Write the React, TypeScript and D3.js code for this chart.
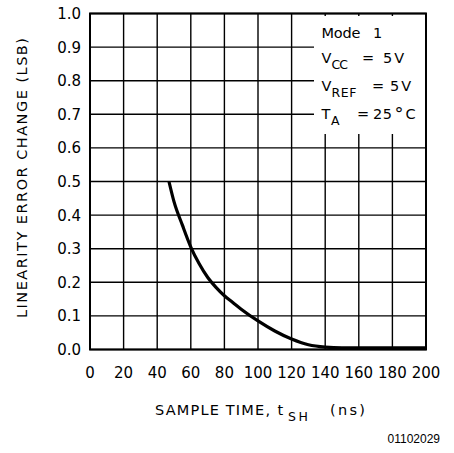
import React from "react";
import * as d3 from "d3";

const xTicks = [0, 20, 40, 60, 80, 100, 120, 140, 160, 180, 200];
const yTicks = [0, 0.1, 0.2, 0.3, 0.4, 0.5, 0.6, 0.7, 0.8, 0.9, 1.0];
const sampleTime = [47, 50, 55, 60, 65, 70, 75, 80, 85, 90, 100, 110, 120, 130, 140, 150, 200];
const errorChange = [0.5, 0.44, 0.37, 0.305, 0.255, 0.215, 0.185, 0.16, 0.14, 0.12, 0.085, 0.055, 0.031, 0.014, 0.007, 0.005, 0.005];

const W = 454, H = 453;
const left = 90, right = 426, top = 13.5, bottom = 349.5;
const FONT = "DejaVu Sans, sans-serif";

export default function App() {
  const x = d3.scaleLinear().domain([0, 200]).range([left, right]);
  const y = d3.scaleLinear().domain([0, 1]).range([bottom, top]);
  const pts: [number, number][] = sampleTime.map((t, i) => [t, errorChange[i]]);
  const line = d3.line<[number, number]>().x(d => x(d[0])).y(d => y(d[1])).curve(d3.curveMonotoneX);

  const T = (px: number, py: number, s: string, fs = 14.5, extra: any = {}) => (
    <text x={px} y={py} fontFamily={FONT} fontSize={fs} fill="#000" {...extra}>{s}</text>
  );

  return (
    <svg width={W} height={H} style={{ position: "absolute", left: 0, top: 0, background: "#fff" }}>
      <rect x={0} y={0} width={W} height={H} fill="#fff" />
      {xTicks.map(t => (
        <line key={"vx" + t} x1={x(t)} x2={x(t)} y1={top} y2={bottom} stroke="#000" strokeWidth={1.4} />
      ))}
      {yTicks.map(t => (
        <line key={"hy" + t} x1={left} x2={right} y1={y(t)} y2={y(t)} stroke="#000" strokeWidth={1.4} />
      ))}
      <rect x={314} y={16} width={right - 314} height={134 - 16} fill="#fff" />
      <rect x={left} y={top} width={right - left} height={bottom - top} fill="none" stroke="#000" strokeWidth={2} />
      <path d={line(pts) || ""} fill="none" stroke="#000" strokeWidth={3.2} />
      {yTicks.map(t => (
        <text key={"yl" + t} x={81} y={y(t) + 5.5} textAnchor="end" fontFamily={FONT} fontSize={15} fill="#000">
          {t.toFixed(1)}
        </text>
      ))}
      {xTicks.map(t => (
        <text key={"xl" + t} x={x(t)} y={378} textAnchor="middle" fontFamily={FONT} fontSize={15} fill="#000">
          {t}
        </text>
      ))}
      {/* legend */}
      {T(321.5, 37.5, "Mode", 14.5, { textLength: 39, lengthAdjust: "spacing" })}
      {T(373, 37.5, "1")}
      {T(321.5, 63, "V")}
      {T(331.5, 68.5, "CC", 12.5, { textLength: 16.5, lengthAdjust: "spacing" })}
      {T(362, 63, "=")}
      {T(383, 63, "5V", 14.5, { letterSpacing: 2 })}
      {T(321.5, 91, "V")}
      {T(331.5, 96.5, "REF", 12.5, { textLength: 25, lengthAdjust: "spacing" })}
      {T(372, 91, "=")}
      {T(390, 91, "5V", 14.5, { letterSpacing: 2 })}
      {T(321.5, 119, "T")}
      {T(331, 124.5, "A", 12.5)}
      {T(357, 119, "=")}
      {T(373, 119, "25", 14.5, { letterSpacing: 0.5 })}
      {T(394.5, 120, "°", 18)}
      {T(405.5, 119, "C")}
      {/* x title */}
      {T(155, 415, "SAMPLE TIME,", 14.5, { textLength: 115, lengthAdjust: "spacing" })}
      {T(277.5, 415, "t")}
      {T(288, 421, "SH", 12.5, { textLength: 20, lengthAdjust: "spacing" })}
      {T(330, 415, "(ns)", 14.5, { textLength: 35, lengthAdjust: "spacing" })}
      {/* y title */}
      <text transform={`translate(${27},${178}) rotate(-90)`} textAnchor="middle" fontFamily={FONT} fontSize={14.5} fill="#000"
        textLength={280} lengthAdjust="spacing">
        LINEARITY ERROR CHANGE (LSB)
      </text>
      <text x={440} y={443} textAnchor="end" fontFamily="Liberation Sans, Arial, sans-serif" fontSize={12} fill="#000">
        01102029
      </text>
    </svg>
  );
}
